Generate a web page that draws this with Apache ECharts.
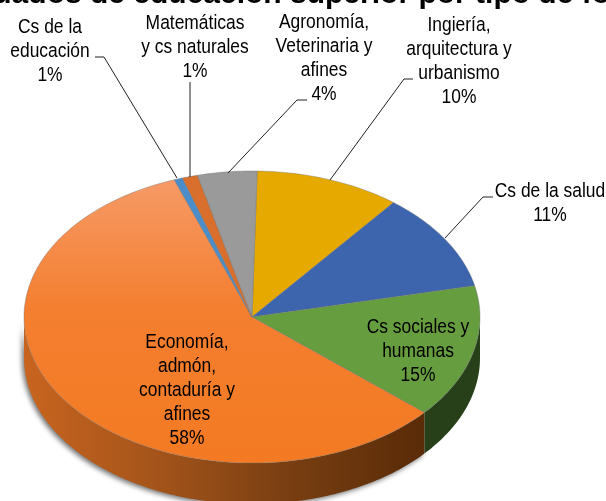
<!DOCTYPE html>
<html>
<head>
<meta charset="utf-8">
<script src="https://cdn.jsdelivr.net/npm/echarts@6/dist/echarts.min.js"></script>
<style>
  html, body { margin: 0; padding: 0; background: #fff; overflow: hidden; }
  #chart { width: 606px; height: 501px; }
</style>
</head>
<body>
<div id="chart"></div>
<script>
// slices clockwise from the yellow one (%)
const categories = [
  'Ingiería,\narquitectura y\nurbanismo',
  'Cs de la salud',
  'Cs sociales y\nhumanas',
  'Economía,\nadmón,\ncontaduría y\nafines',
  'Cs de la\neducación',
  'Matemáticas\ny cs naturales',
  'Agronomía,\nVeterinaria y\nafines'
];
const values = [10.3, 10.9, 14.8, 58.1, 0.6, 1.1, 4.2];
const titleText = 'Graduados de educación superior por tipo de formación';

const topColors = ['#e5a900', '#3c65ae', '#659d3f', '#f47a24', '#4b8dc9', '#d86f2c', '#9a9a9a'];
const sideColors = ['#7a5a00', '#20365e', '#27401a', '#5a2b06', '#2a4c6c', '#733b18', '#525252'];

// where each label goes and how its leader runs
const labelPos = [
  [459, 13], [550, 179], [418, 315], [187, 330], [50, 15], [195, 11], [324, 10]
];
const leaders = [
  [[413, 79], [404, 79], [330, 180]],
  [[493, 197], [483, 197], [445, 238]],
  null,
  null,
  [[95, 57], [104, 57], [177, 178]],
  [[190, 82], [190, 177]],
  [[307, 100], [297, 100], [228, 173]]
];

const cx = 252, cy = 317, rx = 228, ry = 146, depth = 41;
const startAngle = 1.3;
const labelFont = '"Liberation Sans", Arial, sans-serif';

function edgePoint(deg) {
  const a = deg * Math.PI / 180;
  return [cx + rx * Math.sin(a), cy - ry * Math.cos(a)];
}

function renderSlice(params, api) {
  const i = api.value(0);
  const from = api.value(1);
  const to = api.value(2);

  const rim = [];
  for (let d = from; d < to; d += 1) rim.push(edgePoint(d));
  rim.push(edgePoint(to));

  const children = [];

  // visible wall is only the front half of the ellipse
  const wallFrom = Math.max(from, 90);
  const wallTo = Math.min(to, 270);
  if (wallFrom < wallTo) {
    const wall = [];
    for (let d = wallFrom; d < wallTo; d += 1) wall.push(edgePoint(d));
    wall.push(edgePoint(wallTo));
    const lower = wall.map(function (p) { return [p[0], p[1] + depth]; }).reverse();
    const wallStyle = { fill: sideColors[i] };
    if (i === 3) {
      wallStyle.fill = new echarts.graphic.LinearGradient(0, 0, 1, 0, [
        { offset: 0, color: '#c8641f' },
        { offset: 0.3, color: '#a8561b' },
        { offset: 0.65, color: '#7a3f12' },
        { offset: 1, color: '#592b07' }
      ]);
      wallStyle.shadowColor = 'rgba(60,60,60,0.7)';
      wallStyle.shadowBlur = 5;
      wallStyle.shadowOffsetX = -2;
      wallStyle.shadowOffsetY = 2;
    }
    children.push({
      type: 'polygon',
      shape: { points: wall.concat(lower) },
      style: wallStyle
    });
  }

  const face = i === 3
    ? new echarts.graphic.LinearGradient(0, 0, 0, 1, [
        { offset: 0, color: '#f69a66' },
        { offset: 0.45, color: '#f47f30' },
        { offset: 1, color: '#f37a22' }
      ])
    : topColors[i];
  children.push({
    type: 'polygon',
    shape: { points: [[cx, cy]].concat(rim) },
    style: { fill: face, stroke: 'rgba(110,110,110,0.55)', lineWidth: 0.7 }
  });

  return { type: 'group', children: children };
}

const sliceData = [];
const total = values.reduce(function (a, b) { return a + b; }, 0);
let running = startAngle;
values.forEach(function (v, i) {
  const sweep = v / total * 360;
  sliceData.push([i, running, running + sweep]);
  running += sweep;
});

const graphics = [];
categories.forEach(function (name, i) {
  graphics.push({
    type: 'text',
    x: labelPos[i][0],
    y: labelPos[i][1],
    scaleX: 0.85,
    z: 10,
    style: {
      text: name + '\n' + Math.round(values[i] / total * 100) + '%',
      font: '20.5px ' + labelFont,
      fill: '#000',
      align: 'center',
      verticalAlign: 'top',
      lineHeight: 24
    }
  });
  if (leaders[i]) {
    graphics.push({
      type: 'polyline',
      z: 9,
      shape: { points: leaders[i] },
      style: { stroke: '#222', lineWidth: 1, fill: null }
    });
  }
});

const chart = echarts.init(document.getElementById('chart'), null, { renderer: 'canvas' });
chart.setOption({
  animation: false,
  backgroundColor: '#fff',
  title: {
    text: titleText,
    left: 320,
    top: -25,
    textAlign: 'center',
    textStyle: {
      fontFamily: '"Liberation Sans", Arial, sans-serif',
      fontSize: 30,
      fontWeight: 'bold',
      color: '#000'
    }
  },
  series: [{
    type: 'custom',
    coordinateSystem: 'none',
    renderItem: renderSlice,
    data: sliceData,
    silent: true
  }],
  graphic: graphics
});
</script>
</body>
</html>
